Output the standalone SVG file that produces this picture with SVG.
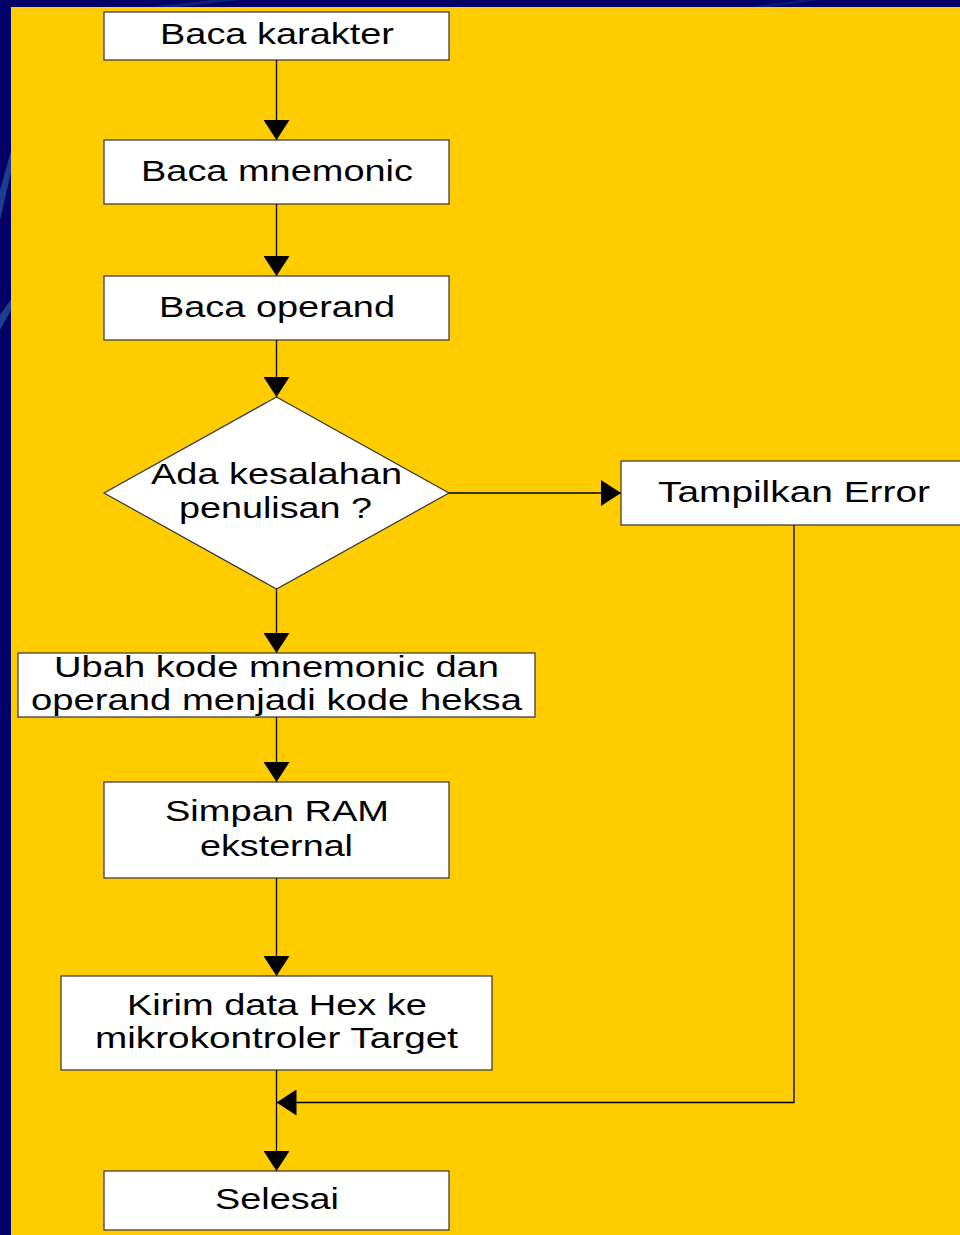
<svg xmlns="http://www.w3.org/2000/svg" width="960" height="1235" viewBox="0 0 960 1235">
  <style>
    .box { fill: #ffffff; stroke: #333333; stroke-width: 1.2; }
    .line { fill: none; stroke: #000000; stroke-width: 1.3; }
    .lbl { font-family: "Liberation Sans", Arial, sans-serif; font-size: 29px; fill: #000000; }
  </style>
  <defs>
    <marker id="arrow" viewBox="0 0 20 26" refX="20" refY="13" markerWidth="20" markerHeight="26" markerUnits="userSpaceOnUse" orient="auto">
      <path d="M0,0 L20,13 L0,26 Z" fill="#000000"/>
    </marker>
    <clipPath id="frame">
      <rect x="0" y="0" width="960" height="1235"/>
    </clipPath>
  </defs>

  <!-- slide background -->
  <rect x="0" y="0" width="960" height="1235" fill="#000066"/>
  <g clip-path="url(#frame)" fill="#2a5a9e" opacity="0.7">
    <path d="M0,190 L14,140 L14,160 L0,220 Z"/>
    <path d="M0,315 L14,295 L14,305 L0,330 Z"/>
    <path d="M150,7 L210,0 L240,0 L180,7 Z" opacity="0.5"/>
    <path d="M750,7 L800,0 L820,0 L770,7 Z" opacity="0.4"/>
  </g>
  <rect x="11" y="7" width="949" height="1228" fill="#ffcc00"/>

  <!-- connectors -->
  <g id="connectors">
    <line class="line" x1="276.5" y1="60" x2="276.5" y2="140" marker-end="url(#arrow)"/>
    <line class="line" x1="276.5" y1="204" x2="276.5" y2="276" marker-end="url(#arrow)"/>
    <line class="line" x1="276.5" y1="340" x2="276.5" y2="397" marker-end="url(#arrow)"/>
    <line class="line" x1="276.5" y1="589" x2="276.5" y2="653" marker-end="url(#arrow)"/>
    <line class="line" x1="449" y1="493" x2="621" y2="493" marker-end="url(#arrow)"/>
    <line class="line" x1="276.5" y1="717" x2="276.5" y2="782" marker-end="url(#arrow)"/>
    <line class="line" x1="276.5" y1="878" x2="276.5" y2="976" marker-end="url(#arrow)"/>
    <line class="line" x1="276.5" y1="1070" x2="276.5" y2="1171" marker-end="url(#arrow)"/>
    <polyline class="line" points="794,525 794,1102.5 276.5,1102.5" marker-end="url(#arrow)"/>
  </g>

  <!-- nodes -->
  <g id="baca-karakter">
    <rect class="box" x="104" y="12" width="345" height="48"/>
    <text class="lbl" x="160" y="44" textLength="234" lengthAdjust="spacingAndGlyphs">Baca karakter</text>
  </g>
  <g id="baca-mnemonic">
    <rect class="box" x="104" y="140" width="345" height="64"/>
    <text class="lbl" x="141" y="181" textLength="272" lengthAdjust="spacingAndGlyphs">Baca mnemonic</text>
  </g>
  <g id="baca-operand">
    <rect class="box" x="104" y="276" width="345" height="64"/>
    <text class="lbl" x="159" y="317" textLength="236" lengthAdjust="spacingAndGlyphs">Baca operand</text>
  </g>
  <g id="cek-kesalahan">
    <polygon class="box" points="276.5,397 449,493 276.5,589 104,493"/>
    <text class="lbl" x="151" y="484" textLength="251" lengthAdjust="spacingAndGlyphs">Ada kesalahan</text>
    <text class="lbl" x="179" y="518" textLength="193" lengthAdjust="spacingAndGlyphs">penulisan ?</text>
  </g>
  <g id="tampilkan-error">
    <rect class="box" x="621" y="461" width="345" height="64"/>
    <text class="lbl" x="658" y="502" textLength="272" lengthAdjust="spacingAndGlyphs">Tampilkan Error</text>
  </g>
  <g id="ubah-kode">
    <rect class="box" x="18" y="653" width="517" height="64"/>
    <text class="lbl" x="54" y="677" textLength="445" lengthAdjust="spacingAndGlyphs">Ubah kode mnemonic dan</text>
    <text class="lbl" x="31" y="710" textLength="491" lengthAdjust="spacingAndGlyphs">operand menjadi kode heksa</text>
  </g>
  <g id="simpan-ram">
    <rect class="box" x="104" y="782" width="345" height="96"/>
    <text class="lbl" x="165" y="821" textLength="224" lengthAdjust="spacingAndGlyphs">Simpan RAM</text>
    <text class="lbl" x="200" y="856" textLength="153" lengthAdjust="spacingAndGlyphs">eksternal</text>
  </g>
  <g id="kirim-data">
    <rect class="box" x="61" y="976" width="431" height="94"/>
    <text class="lbl" x="127" y="1015" textLength="300" lengthAdjust="spacingAndGlyphs">Kirim data Hex ke</text>
    <text class="lbl" x="95" y="1048" textLength="363" lengthAdjust="spacingAndGlyphs">mikrokontroler Target</text>
  </g>
  <g id="selesai">
    <rect class="box" x="104" y="1171" width="345" height="59"/>
    <text class="lbl" x="215" y="1209" textLength="124" lengthAdjust="spacingAndGlyphs">Selesai</text>
  </g>
</svg>
